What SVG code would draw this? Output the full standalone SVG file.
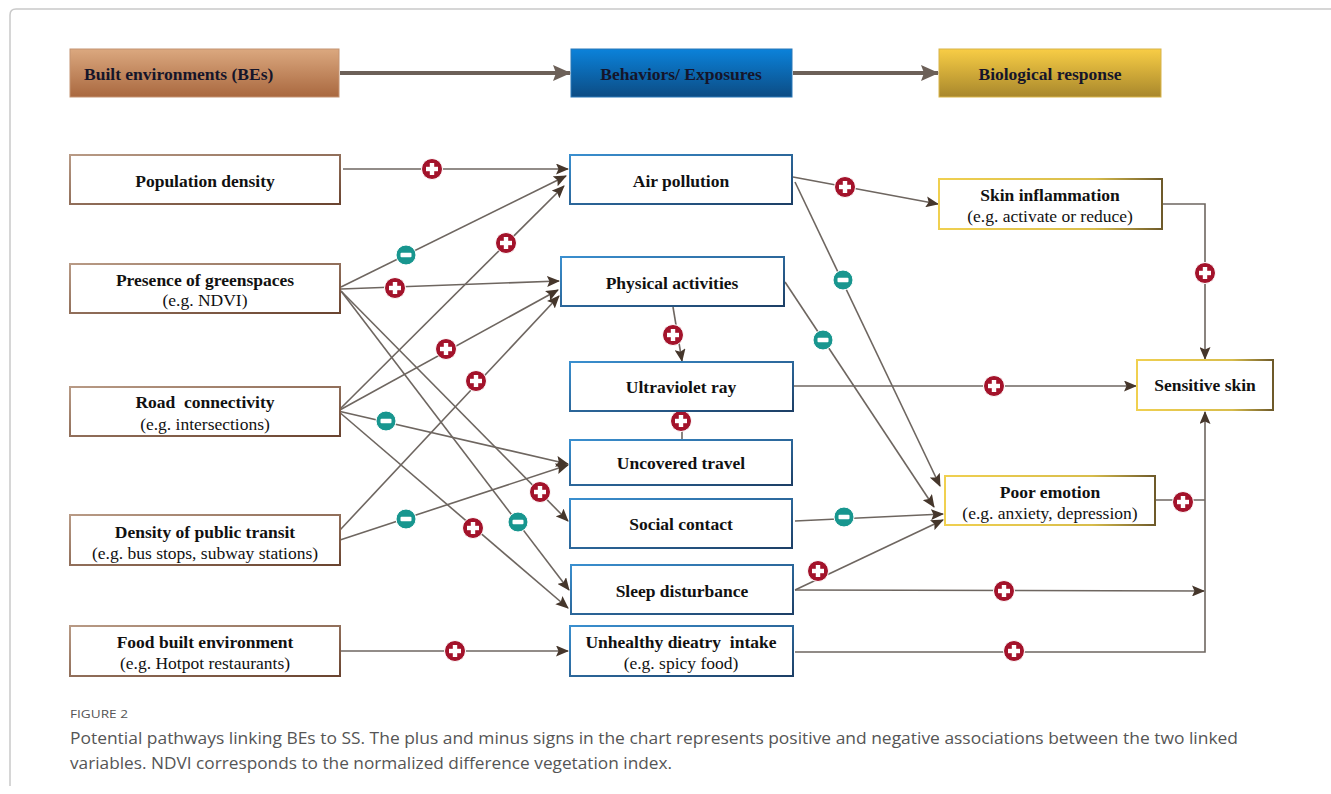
<svg xmlns="http://www.w3.org/2000/svg" width="1331" height="794" viewBox="0 0 1331 794">
<defs>
<linearGradient id="gBE" x1="0" y1="0" x2="0" y2="1"><stop offset="0" stop-color="#dba87f"/><stop offset="1" stop-color="#a9683f"/></linearGradient>
<linearGradient id="gBX" x1="0" y1="0" x2="0" y2="1"><stop offset="0" stop-color="#0b82da"/><stop offset="1" stop-color="#0c4c84"/></linearGradient>
<linearGradient id="gBR" x1="0" y1="0" x2="0" y2="1"><stop offset="0" stop-color="#f8cd45"/><stop offset="1" stop-color="#a8872c"/></linearGradient>
<linearGradient id="sL" x1="0" y1="0" x2="1" y2="1"><stop offset="0" stop-color="#b89a85"/><stop offset="1" stop-color="#6a4430"/></linearGradient>
<linearGradient id="sM" x1="0" y1="0" x2="1" y2="1"><stop offset="0" stop-color="#3a8fcf"/><stop offset="1" stop-color="#1d3f66"/></linearGradient>
<linearGradient id="sR" x1="0" y1="0" x2="1" y2="0"><stop offset="0" stop-color="#f0d050"/><stop offset="0.7" stop-color="#d8bd4c"/><stop offset="1" stop-color="#6e5a2a"/></linearGradient>
<marker id="arr" viewBox="0 0 13 11" refX="12" refY="5.5" markerWidth="13" markerHeight="11" markerUnits="userSpaceOnUse" orient="auto"><path d="M0,0 L13,5.5 L0,11 L2.5,5.5 z" fill="#45362b"/></marker>
<marker id="big" viewBox="0 0 18 16" refX="17" refY="8" markerWidth="18" markerHeight="16" markerUnits="userSpaceOnUse" orient="auto"><path d="M0,0 L18,8 L0,16 L3,8 z" fill="#6c6058"/></marker>
<g id="plus"><circle r="10.5" fill="#a3132b" stroke="#fff" stroke-width="1"/><rect x="-6" y="-2.2" width="12" height="4.4" fill="#fff"/><rect x="-2.2" y="-6" width="4.4" height="12" fill="#fff"/></g>
<g id="minus"><circle r="10" fill="#18968f" stroke="#fff" stroke-width="1"/><rect x="-5.5" y="-2.2" width="11" height="4.4" rx="1" fill="#fff"/></g>
</defs>
<style>
.t{font-family:"Liberation Serif","Times New Roman",serif;font-size:17.5px;fill:#111;text-anchor:middle}
.b{font-weight:bold}
.h{font-family:"Liberation Serif","Times New Roman",serif;font-size:17.5px;font-weight:bold;fill:#15152a}
.ln{fill:#fff;stroke:url(#sL);stroke-width:2}
.mn{fill:#fff;stroke:url(#sM);stroke-width:2}
.rn{fill:#fff;stroke:url(#sR);stroke-width:2}
.c{fill:none;stroke:#6e6660;stroke-width:1.6}
.ca{fill:none;stroke:#6e6660;stroke-width:1.6;marker-end:url(#arr)}
.cap{font-family:"Open Sans","Liberation Sans",sans-serif;fill:#555}
</style>
<rect width="1331" height="794" fill="#fff"/>
<path d="M10,786 V15 Q10,9 16,9 H1331" fill="none" stroke="#c9c9c9" stroke-width="1.5"/>

<g id="headers">
<rect x="70" y="49" width="269" height="48" fill="url(#gBE)" stroke="#c49372" stroke-width="1"/>
<text class="h" x="84" y="80">Built environments (BEs)</text>
<rect x="571" y="49" width="221" height="48" fill="url(#gBX)" stroke="#2a78b8" stroke-width="1"/>
<text class="h" x="681" y="80" text-anchor="middle">Behaviors/ Exposures</text>
<rect x="939" y="49" width="222" height="48" fill="url(#gBR)" stroke="#d8b44a" stroke-width="1"/>
<text class="h" x="1050" y="80" text-anchor="middle">Biological response</text>
<line x1="340" y1="73" x2="570" y2="73" stroke="#6c6058" stroke-width="4" marker-end="url(#big)"/>
<line x1="793" y1="73" x2="938" y2="73" stroke="#6c6058" stroke-width="4" marker-end="url(#big)"/>
</g>

<g id="connectors">
<line class="ca" x1="343" y1="169" x2="568" y2="169"/>
<line class="ca" x1="341" y1="287" x2="566" y2="176"/>
<line class="ca" x1="341" y1="289" x2="559" y2="281"/>
<line class="ca" x1="341" y1="291" x2="568" y2="521"/>
<line class="ca" x1="341" y1="291" x2="569" y2="590"/>
<line class="ca" x1="338" y1="411" x2="564" y2="186"/>
<line class="ca" x1="338" y1="411" x2="558" y2="290"/>
<line class="ca" x1="338" y1="411" x2="568" y2="464"/>
<line class="ca" x1="338" y1="411" x2="568" y2="608"/>
<line class="ca" x1="340" y1="530" x2="559" y2="296"/>
<line class="ca" x1="340" y1="540" x2="568" y2="465"/>
<line class="ca" x1="341" y1="651" x2="568" y2="651"/>
<line class="ca" x1="673" y1="307" x2="682" y2="361"/>
<line class="c" x1="682" y1="412" x2="682" y2="440"/>
<line class="ca" x1="793" y1="177" x2="938" y2="204"/>
<line class="ca" x1="795" y1="182" x2="940" y2="486"/>
<line class="ca" x1="785" y1="282" x2="934" y2="507"/>
<line class="ca" x1="795" y1="521" x2="943" y2="514"/>
<line class="ca" x1="795" y1="590" x2="943" y2="520"/>
<line class="ca" x1="795" y1="590" x2="1204" y2="591"/>
<line class="ca" x1="794" y1="386" x2="1136" y2="386"/>
<path class="ca" d="M795,652 H1205 V412"/>
<line class="c" x1="1156" y1="500" x2="1205" y2="500"/>
<path class="ca" d="M1163,204 H1205 V359"/>
</g>

<g id="signs">
<use href="#plus" x="432" y="169"/>
<use href="#minus" x="406" y="255"/>
<use href="#plus" x="395" y="288"/>
<use href="#plus" x="540" y="492"/>
<use href="#minus" x="518" y="522"/>
<use href="#plus" x="506" y="243"/>
<use href="#plus" x="446" y="349"/>
<use href="#minus" x="386" y="421"/>
<use href="#plus" x="473" y="528"/>
<use href="#plus" x="476" y="381"/>
<use href="#minus" x="406" y="519"/>
<use href="#plus" x="455" y="651"/>
<use href="#plus" x="673" y="335"/>
<use href="#plus" x="681" y="421"/>
<use href="#plus" x="845" y="187"/>
<use href="#minus" x="843" y="280"/>
<use href="#minus" x="823" y="340"/>
<use href="#minus" x="844" y="517"/>
<use href="#plus" x="818" y="571"/>
<use href="#plus" x="1004" y="591"/>
<use href="#plus" x="994" y="386"/>
<use href="#plus" x="1014" y="651"/>
<use href="#plus" x="1183" y="502"/>
<use href="#plus" x="1205" y="273"/>
</g>

<g id="n-population"><rect class="ln" x="70" y="155" width="270" height="49"/><text class="t b" x="205" y="187">Population density</text></g>
<g id="n-greenspaces"><rect class="ln" x="70" y="264" width="270" height="49"/><text class="t b" x="205" y="286">Presence of greenspaces</text><text class="t" x="205" y="306">(e.g. NDVI)</text></g>
<g id="n-road"><rect class="ln" x="70" y="387" width="270" height="49"/><text class="t b" x="205" y="408" xml:space="preserve">Road  connectivity</text><text class="t" x="205" y="430">(e.g. intersections)</text></g>
<g id="n-transit"><rect class="ln" x="70" y="515" width="270" height="50"/><text class="t b" x="205" y="538">Density of public transit</text><text class="t" x="205" y="559">(e.g. bus stops, subway stations)</text></g>
<g id="n-food"><rect class="ln" x="70" y="626" width="270" height="50"/><text class="t b" x="205" y="648">Food built environment</text><text class="t" x="205" y="669">(e.g. Hotpot restaurants)</text></g>

<g id="n-air"><rect class="mn" x="570" y="155" width="222" height="49"/><text class="t b" x="681" y="187">Air pollution</text></g>
<g id="n-physical"><rect class="mn" x="561" y="257" width="223" height="49"/><text class="t b" x="672" y="289">Physical activities</text></g>
<g id="n-uv"><rect class="mn" x="570" y="362" width="223" height="49"/><text class="t b" x="681" y="393">Ultraviolet ray</text></g>
<g id="n-uncovered"><rect class="mn" x="570" y="440" width="222" height="45"/><text class="t b" x="681" y="469">Uncovered travel</text></g>
<g id="n-social"><rect class="mn" x="570" y="499" width="222" height="49"/><text class="t b" x="681" y="530">Social contact</text></g>
<g id="n-sleep"><rect class="mn" x="571" y="565" width="222" height="49"/><text class="t b" x="682" y="597">Sleep disturbance</text></g>
<g id="n-diet"><rect class="mn" x="570" y="626" width="223" height="50"/><text class="t b" x="681" y="648" xml:space="preserve">Unhealthy dieatry  intake</text><text class="t" x="681" y="669">(e.g. spicy food)</text></g>

<g id="n-inflammation"><rect class="rn" x="939" y="179" width="223" height="50"/><text class="t b" x="1050" y="201">Skin inflammation</text><text class="t" x="1050" y="222">(e.g. activate or reduce)</text></g>
<g id="n-sensitive"><rect class="rn" x="1137" y="360" width="136" height="50"/><text class="t b" x="1205" y="391">Sensitive skin</text></g>
<g id="n-emotion"><rect class="rn" x="945" y="476" width="210" height="49"/><text class="t b" x="1050" y="498">Poor emotion</text><text class="t" x="1050" y="519">(e.g. anxiety, depression)</text></g>

<g id="caption">
<text class="cap" x="70" y="718" font-size="11.5" textLength="58" lengthAdjust="spacingAndGlyphs">FIGURE 2</text>
<text class="cap" x="70" y="744" font-size="17" textLength="1168" lengthAdjust="spacingAndGlyphs">Potential pathways linking BEs to SS. The plus and minus signs in the chart represents positive and negative associations between the two linked</text>
<text class="cap" x="70" y="769" font-size="17" textLength="602" lengthAdjust="spacingAndGlyphs">variables. NDVI corresponds to the normalized difference vegetation index.</text>
</g>
</svg>
